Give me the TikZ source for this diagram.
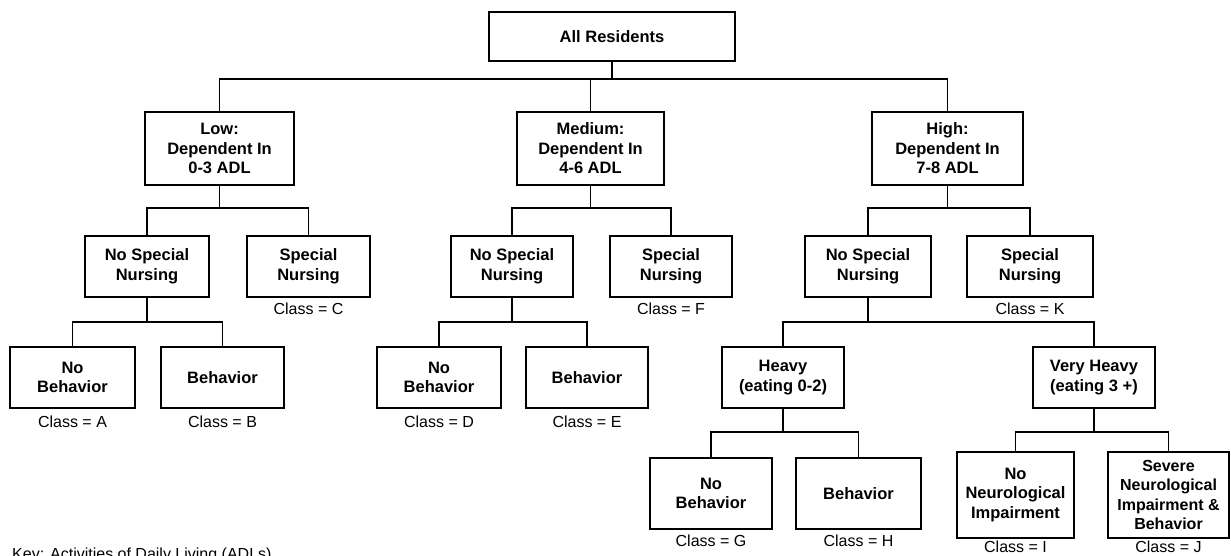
\documentclass[tikz,border=0pt]{standalone}
\usepackage{fontspec}
\setmainfont{Liberation Sans}
\begin{document}
\begin{tikzpicture}[x=1pt,y=-1pt,
  box/.style={draw, line width=1.2pt, inner sep=0pt, align=center, font=\fontsize{16.5}{19.5}\selectfont\bfseries},
  cls/.style={inner sep=0pt, font=\fontsize{16}{18}\selectfont},
  conn/.style={line width=1.2pt}]
\path[use as bounding box] (0,0) rectangle (1231,555);
\clip (0,0) rectangle (1231,555);
% level 1
\node[box, minimum width=246, minimum height=49] (root) at (612,36.5) {All Residents};
% level 2
\node[box, minimum width=149, minimum height=73] (low) at (219.5,148.5) {Low:\\Dependent In\\0-3 ADL};
\node[box, minimum width=147, minimum height=73] (med) at (590.5,148.5) {Medium:\\Dependent In\\4-6 ADL};
\node[box, minimum width=151, minimum height=73] (high) at (947.5,148.5) {High:\\Dependent In\\7-8 ADL};
% level 3
\node[box, minimum width=124, minimum height=61] (lownsn) at (147,266.5) {No Special\\Nursing};
\node[box, minimum width=123, minimum height=61] (lowsn) at (308.5,266.5) {Special\\Nursing};
\node[box, minimum width=122, minimum height=61] (mednsn) at (512,266.5) {No Special\\Nursing};
\node[box, minimum width=122, minimum height=61] (medsn) at (671,266.5) {Special\\Nursing};
\node[box, minimum width=126, minimum height=61] (highnsn) at (868,266.5) {No Special\\Nursing};
\node[box, minimum width=126, minimum height=61] (highsn) at (1030,266.5) {Special\\Nursing};
% level 4
\node[box, minimum width=125, minimum height=61] (lownb) at (72.5,377.5) {No\\Behavior};
\node[box, minimum width=123, minimum height=61] (lowb) at (222.5,377.5) {Behavior};
\node[box, minimum width=124, minimum height=61] (mednb) at (439,377.5) {No\\Behavior};
\node[box, minimum width=122, minimum height=61] (medb) at (587,377.5) {Behavior};
\node[box, minimum width=122, minimum height=61] (heavy) at (783,377.5) {Heavy\\(eating 0-2)};
\node[box, minimum width=122, minimum height=61] (vheavy) at (1094,377.5) {Very Heavy\\(eating 3 +)};
% level 5
\node[box, minimum width=122, minimum height=71] (hnb) at (711,493.5) {No\\Behavior};
\node[box, minimum width=125, minimum height=71] (hb) at (858.5,493.5) {Behavior};
\node[box, minimum width=117, minimum height=86] (nni) at (1015.5,495) {No\\Neurological\\Impairment};
\node[box, minimum width=121, minimum height=86, font=\fontsize{16}{19.5}\selectfont\bfseries] (sni) at (1168.5,495) {Severe\\Neurological\\Impairment \&\\Behavior};
% class labels
\node[cls] (cC) at (lowsn.south |- 0,309) {Class = C};
\node[cls] (cF) at (medsn.south |- 0,309) {Class = F};
\node[cls] (cK) at (highsn.south |- 0,309) {Class = K};
\node[cls] (cA) at (lownb.south |- 0,422) {Class = A};
\node[cls] (cB) at (lowb.south |- 0,422) {Class = B};
\node[cls] (cD) at (mednb.south |- 0,422) {Class = D};
\node[cls] (cE) at (medb.south |- 0,422) {Class = E};
\node[cls] (cG) at (hnb.south |- 0,541) {Class = G};
\node[cls] (cH) at (hb.south |- 0,541) {Class = H};
\node[cls] (cI) at (nni.south |- 0,547) {Class = I};
\node[cls] (cJ) at (sni.south |- 0,547) {Class = J};
% junction levels
\coordinate (y1) at (0,79);
\coordinate (y2) at (0,208);
\coordinate (y3) at (0,322);
\coordinate (y4) at (0,432);
% connectors
\draw[conn] (root.south) -- (root.south |- y1);
\draw[conn] (low.north) |- (high.north |- y1) -- (high.north);
\draw[conn] (med.north) -- (med.north |- y1);
\draw[conn] (low.south) -- (low.south |- y2);
\draw[conn] (lownsn.north) |- (lowsn.north |- y2) -- (lowsn.north);
\draw[conn] (med.south) -- (med.south |- y2);
\draw[conn] (mednsn.north) |- (medsn.north |- y2) -- (medsn.north);
\draw[conn] (high.south) -- (high.south |- y2);
\draw[conn] (highnsn.north) |- (highsn.north |- y2) -- (highsn.north);
\draw[conn] (lownsn.south) -- (lownsn.south |- y3);
\draw[conn] (lownb.north) |- (lowb.north |- y3) -- (lowb.north);
\draw[conn] (mednsn.south) -- (mednsn.south |- y3);
\draw[conn] (mednb.north) |- (medb.north |- y3) -- (medb.north);
\draw[conn] (highnsn.south) -- (highnsn.south |- y3);
\draw[conn] (heavy.north) |- (vheavy.north |- y3) -- (vheavy.north);
\draw[conn] (heavy.south) -- (heavy.south |- y4);
\draw[conn] (hnb.north) |- (hb.north |- y4) -- (hb.north);
\draw[conn] (vheavy.south) -- (vheavy.south |- y4);
\draw[conn] (nni.north) |- (sni.north |- y4) -- (sni.north);
% key (cut off at the bottom edge, as in the reference)
\node[anchor=north west, inner sep=0pt, font=\fontsize{16}{18}\selectfont] (key) at (12,548) {Key: Activities of Daily Living (ADLs)};
\end{tikzpicture}
\end{document}
